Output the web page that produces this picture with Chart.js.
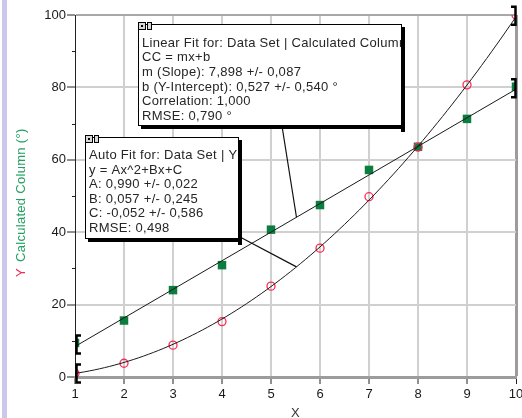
<!DOCTYPE html>
<html>
<head>
<meta charset="utf-8">
<script src="https://cdn.jsdelivr.net/npm/chart.js@4/dist/chart.umd.min.js"></script>
<style>
  html, body { margin: 0; padding: 0; background: #fff; overflow: hidden; }
  #wrap { position: relative; width: 522px; height: 418px; }
  #edge { position: absolute; left: 2px; top: 0; width: 5px; height: 418px; background: #c9c9ec; }
  canvas { position: absolute; left: 0; top: 0; }
</style>
</head>
<body>
<div id="wrap">
  <div id="edge"></div>
  <canvas id="c" width="522" height="418"></canvas>
</div>
<script>
// Measured data set
const xValues = [1, 2, 3, 4, 5, 6, 7, 8, 9, 10];
const yValues = [1.0, 3.8, 8.8, 15.3, 25.1, 35.6, 49.8, 63.5, 80.7, 100.0];
const ccValues = [9.4, 15.6, 24.0, 30.9, 40.7, 47.5, 57.2, 63.6, 71.3, 80.2];

// Fit results
const linearFit = { m: 7.898, mErr: 0.087, b: 0.527, bErr: 0.540, corr: 1.000, rmse: 0.790 };
const quadFit = { A: 0.990, AErr: 0.022, B: 0.057, BErr: 0.245, C: -0.052, CErr: 0.586, rmse: 0.498 };
const fitRange = [1, 10];
const calloutX = 5.52;

const FONT = "'Liberation Sans', Arial, sans-serif";
const fmt = v => v.toFixed(3).replace('.', ',');

const linearAt = x => linearFit.m * x + linearFit.b;
const quadAt = x => quadFit.A * x * x + quadFit.B * x + quadFit.C;

const linearCurve = fitRange.map(x => ({ x, y: linearAt(x) }));
const quadCurve = [];
for (let i = 0; i <= 90; i++) {
  const x = fitRange[0] + i * (fitRange[1] - fitRange[0]) / 90;
  quadCurve.push({ x, y: quadAt(x) });
}

const linearText = [
  'Linear Fit for: Data Set | Calculated Column',
  'CC = mx+b',
  'm (Slope): ' + fmt(linearFit.m) + ' +/- ' + fmt(linearFit.mErr),
  'b (Y-Intercept): ' + fmt(linearFit.b) + ' +/- ' + fmt(linearFit.bErr) + ' °',
  'Correlation: ' + fmt(linearFit.corr),
  'RMSE: ' + fmt(linearFit.rmse) + ' °'
];
const quadText = [
  'Auto Fit for: Data Set | Y',
  'y = Ax^2+Bx+C',
  'A: ' + fmt(quadFit.A) + ' +/- ' + fmt(quadFit.AErr),
  'B: ' + fmt(quadFit.B) + ' +/- ' + fmt(quadFit.BErr),
  'C: ' + fmt(quadFit.C) + ' +/- ' + fmt(quadFit.CErr),
  'RMSE: ' + fmt(quadFit.rmse)
];

function drawIcon(ctx, x, y) {
  ctx.fillStyle = '#d8d8d8';
  ctx.strokeStyle = '#000';
  ctx.lineWidth = 1;
  ctx.fillRect(x, y, 7, 7);
  ctx.strokeRect(x + 0.5, y + 0.5, 7, 7);
  ctx.fillStyle = '#000';
  ctx.fillRect(x + 3, y + 3, 2, 2);
  ctx.fillStyle = '#d8d8d8';
  ctx.fillRect(x + 9, y, 4, 7);
  ctx.strokeRect(x + 9.5, y + 0.5, 4, 7);
}

function drawBox(ctx, box, lines) {
  const { x, y, w, h, tx, by, lh } = box;
  ctx.save();
  ctx.fillStyle = '#fff';
  ctx.fillRect(x, y, w, h);
  ctx.fillStyle = '#000';
  ctx.fillRect(x + w, y + 3, 4, h + 4);
  ctx.fillRect(x + 3, y + h, w + 1, 4);
  ctx.strokeStyle = '#000';
  ctx.lineWidth = 1;
  ctx.strokeRect(x + 0.5, y + 0.5, w, h);
  ctx.save();
  ctx.beginPath();
  ctx.rect(x + 1, y + 1, w - 1, h - 1);
  ctx.clip();
  ctx.font = '13px ' + FONT;
  ctx.letterSpacing = '0.3px';
  ctx.fillStyle = '#262626';
  ctx.textBaseline = 'alphabetic';
  ctx.textAlign = 'left';
  lines.forEach((s, i) => ctx.fillText(s, tx, by + i * lh));
  ctx.restore();
  drawIcon(ctx, x, y - 2);
  ctx.restore();
}

function bracket(ctx, px, py, dir) {
  ctx.save();
  ctx.strokeStyle = '#000';
  ctx.lineWidth = 2.5;
  ctx.beginPath();
  ctx.moveTo(px + dir * 4.5, py - 9);
  ctx.lineTo(px, py - 9);
  ctx.lineTo(px, py + 9);
  ctx.lineTo(px + dir * 4.5, py + 9);
  ctx.stroke();
  ctx.restore();
}

const decorations = {
  id: 'decorations',
  afterDraw(chart) {
    const ctx = chart.ctx;
    const xs = chart.scales.x, ys = chart.scales.y;

    // minor ticks on the y axis
    ctx.save();
    ctx.strokeStyle = '#222';
    ctx.lineWidth = 1;
    [10, 30, 50, 70, 90].forEach(v => {
      const py = Math.round(ys.getPixelForValue(v)) + 0.5;
      ctx.beginPath();
      ctx.moveTo(xs.left - 3, py);
      ctx.lineTo(xs.left, py);
      ctx.stroke();
    });
    ctx.restore();

    // fit range brackets
    const x0 = xs.getPixelForValue(fitRange[0]) + 1.5;
    const x1 = xs.getPixelForValue(fitRange[1]) - 0.5;
    bracket(ctx, x0, ys.getPixelForValue(linearAt(fitRange[0])) - 2, 1);
    bracket(ctx, x0, ys.getPixelForValue(quadAt(fitRange[0])), 1);
    bracket(ctx, x1, ys.getPixelForValue(linearAt(fitRange[1])) - 1, -1);
    bracket(ctx, x1, ys.getPixelForValue(quadAt(fitRange[1])) - 1, -1);

    // callout leaders
    const cx = xs.getPixelForValue(calloutX);
    ctx.save();
    ctx.strokeStyle = '#111';
    ctx.lineWidth = 1.2;
    ctx.beginPath();
    ctx.moveTo(282, 126);
    ctx.lineTo(cx, ys.getPixelForValue(linearAt(calloutX)));
    ctx.moveTo(240, 237);
    ctx.lineTo(cx, ys.getPixelForValue(quadAt(calloutX)));
    ctx.stroke();
    ctx.restore();

    drawBox(ctx, { x: 138, y: 24, w: 263, h: 101, tx: 142, by: 46.5, lh: 14.7 }, linearText);
    drawBox(ctx, { x: 85, y: 137, w: 153, h: 101, tx: 89, by: 159, lh: 14.6 }, quadText);

    // axis titles
    ctx.save();
    ctx.font = '13px ' + FONT;
    ctx.letterSpacing = '0.3px';
    ctx.textBaseline = 'middle';
    ctx.textAlign = 'center';
    ctx.fillStyle = '#333';
    ctx.fillText('X', (xs.left + xs.right) / 2, 413);
    ctx.translate(21, 277);
    ctx.rotate(-Math.PI / 2);
    ctx.textAlign = 'left';
    ctx.fillStyle = '#e8305a';
    ctx.fillText('Y', 0, 0);
    const wy = ctx.measureText('Y').width;
    ctx.fillStyle = '#23a060';
    ctx.fillText('Calculated Column (°)', wy + 6, 0);
    ctx.restore();
  }
};

new Chart(document.getElementById('c'), {
  type: 'scatter',
  data: {
    datasets: [
      {
        label: 'Linear Fit',
        data: linearCurve,
        showLine: true,
        borderColor: '#1a1a1a',
        borderWidth: 1,
        pointRadius: 0,
        pointHoverRadius: 0
      },
      {
        label: 'Auto Fit',
        data: quadCurve,
        showLine: true,
        borderColor: '#1a1a1a',
        borderWidth: 1,
        pointRadius: 0,
        pointHoverRadius: 0
      },
      {
        label: 'Y',
        data: xValues.map((x, i) => ({ x, y: yValues[i] })),
        pointStyle: 'circle',
        pointRadius: 4,
        borderColor: '#ff2a55',
        backgroundColor: 'rgba(0,0,0,0)',
        pointBorderWidth: 1.3
      },
      {
        label: 'Calculated Column',
        data: xValues.map((x, i) => ({ x, y: ccValues[i] })),
        pointStyle: 'rect',
        pointRadius: 6,
        borderColor: '#0b7d3e',
        backgroundColor: '#0b7d3e',
        pointBorderWidth: 0
      }
    ]
  },
  options: {
    responsive: false,
    animation: false,
    events: [],
    layout: { padding: { top: 15, right: 5, left: 0, bottom: 0 } },
    plugins: { legend: { display: false }, tooltip: { enabled: false } },
    scales: {
      x: {
        type: 'linear',
        min: 1,
        max: 10,
        ticks: {
          stepSize: 1,
          padding: 3,
          color: '#1a1a1a',
          font: { family: FONT, size: 13 },
          maxRotation: 0
        },
        grid: {
          color: c => c.tick.value === 1 ? 'rgba(0,0,0,0)' : (c.tick.value === 10 ? '#9c9c9c' : '#d0d0d0'),
          lineWidth: c => c.tick.value === 10 ? 3 : 2,
          tickLength: 7,
          tickColor: '#222',
          tickWidth: 1
        },
        border: { color: '#9c9c9c', width: 3 },
        afterFit(s) { s.height = 41; s.paddingLeft = 0; s.paddingRight = 0; }
      },
      y: {
        type: 'linear',
        min: 0,
        max: 100,
        ticks: {
          stepSize: 10,
          autoSkip: false,
          padding: 1,
          color: '#1a1a1a',
          font: { family: FONT, size: 13 },
          callback: v => (v % 20 === 0 ? String(v) : '')
        },
        grid: {
          color: c => {
            const v = c.tick.value;
            if (v === 0 || v % 20 !== 0) return 'rgba(0,0,0,0)';
            return v === 100 ? '#a8a8a8' : '#d0d0d0';
          },
          lineWidth: 2,
          tickLength: 8,
          tickColor: c => (c.tick.value % 20 === 0 ? '#222' : 'rgba(0,0,0,0)'),
          tickWidth: 1
        },
        border: { color: '#222', width: 1 },
        afterFit(s) { s.width = 75; s.paddingTop = 0; s.paddingBottom = 0; }
      }
    }
  },
  plugins: [decorations]
});
</script>
</body>
</html>
